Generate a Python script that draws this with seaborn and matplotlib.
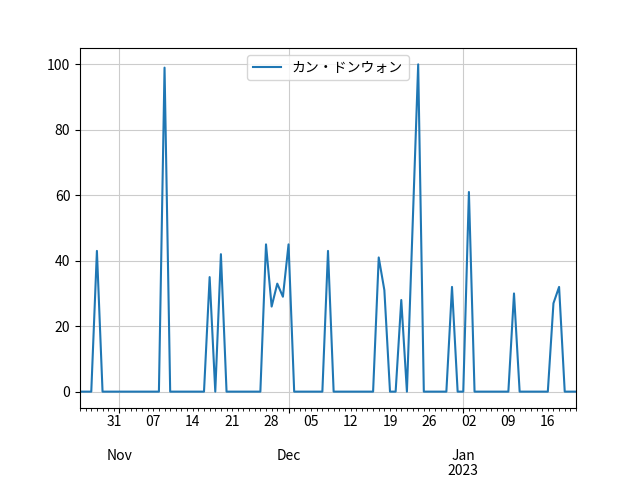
import matplotlib
matplotlib.use("Agg")
import matplotlib.pyplot as plt
import matplotlib.dates as mdates
from matplotlib.ticker import FuncFormatter
import pandas as pd
import seaborn as sns

plt.rcParams['font.family'] = ['Noto Sans CJK JP', 'DejaVu Sans']
plt.rcParams['axes.unicode_minus'] = False

series_name = "カン・ドンウォン"
start_date = "2022-10-25"
end_date = "2023-01-21"
values = [
    0, 0, 0, 43, 0, 0, 0, 0, 0, 0,
    0, 0, 0, 0, 0, 99, 0, 0, 0, 0,
    0, 0, 0, 35, 0, 42, 0, 0, 0, 0,
    0, 0, 0, 45, 26, 33, 29, 45, 0, 0,
    0, 0, 0, 0, 43, 0, 0, 0, 0, 0,
    0, 0, 0, 41, 31, 0, 0, 28, 0, 50,
    100, 0, 0, 0, 0, 0, 32, 0, 0, 61,
    0, 0, 0, 0, 0, 0, 0, 30, 0, 0,
    0, 0, 0, 0, 27, 32, 0, 0, 0,
]
dates = pd.date_range(start_date, end_date, freq="D")
assert len(dates) == len(values)
df = pd.DataFrame({"date": dates, "value": values})

fig, ax = plt.subplots(figsize=(6.4, 4.8), dpi=100)
fig.subplots_adjust(left=0.125, right=0.9, top=0.9, bottom=0.15)
sns.lineplot(data=df, x="date", y="value", ax=ax, color="#1f77b4",
             linewidth=1.5, label=series_name)
ax.set_xlabel("")
ax.set_ylabel("")
ax.set_xlim(dates[0], dates[-1])
ax.set_yticks([0, 20, 40, 60, 80, 100])
ax.set_ylim(-5, 105)


def major_fmt(x, pos=None):
    d = mdates.num2date(x)
    if d.month == 1:
        return d.strftime("%b") + "\n" + d.strftime("%Y")
    return d.strftime("%b")


def minor_fmt(x, pos=None):
    d = mdates.num2date(x)
    if d.weekday() == 0:
        return d.strftime("%d")
    return ""


ax.xaxis.set_major_locator(mdates.MonthLocator())
ax.xaxis.set_major_formatter(FuncFormatter(major_fmt))
ax.xaxis.set_minor_locator(mdates.DayLocator())
ax.xaxis.set_minor_formatter(FuncFormatter(minor_fmt))
ax.tick_params(axis="x", which="both", labelsize=10)
ax.tick_params(axis="x", which="major", pad=26)
for lab in ax.get_xticklabels():
    lab.set_ha("center")
    lab.set_linespacing(1.1)

ax.grid(True, color="#cccccc", linewidth=0.8)
ax.legend(loc="upper center")

fig.savefig("out.png", dpi=100)
